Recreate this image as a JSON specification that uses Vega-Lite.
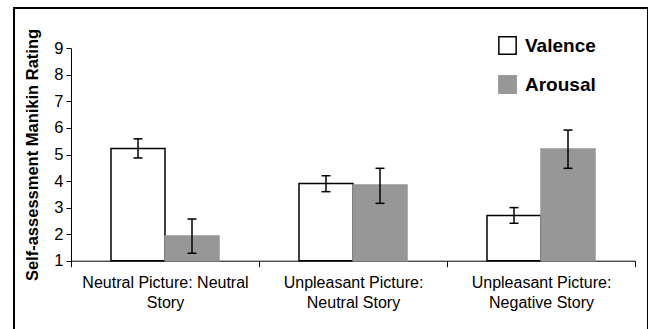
{
  "$schema": "https://vega.github.io/schema/vega-lite/v6.json",
  "autosize": {"type": "none"},
  "padding": {"left": 14, "top": 8, "right": 0, "bottom": 0},
  "width": 634,
  "height": 322,
  "background": "white",
  "view": {"stroke": "black", "strokeWidth": 2, "fill": "white"},
  "config": {
    "font": "Liberation Sans",
    "axis": {"labelFont": "Liberation Sans", "titleFont": "Liberation Sans", "labelColor": "black", "titleColor": "black", "domainColor": "black", "tickColor": "black", "grid": false},
    "legend": {"labelFont": "Liberation Sans", "labelColor": "black"}
  },
  "data": {
    "values": [
      {"condition": "Neutral Picture: Neutral Story", "measure": "Valence", "rating": 5.23, "lo": 4.87, "hi": 5.59},
      {"condition": "Neutral Picture: Neutral Story", "measure": "Arousal", "rating": 1.93, "lo": 1.28, "hi": 2.57},
      {"condition": "Unpleasant Picture: Neutral Story", "measure": "Valence", "rating": 3.91, "lo": 3.6, "hi": 4.2},
      {"condition": "Unpleasant Picture: Neutral Story", "measure": "Arousal", "rating": 3.85, "lo": 3.16, "hi": 4.48},
      {"condition": "Unpleasant Picture: Negative Story", "measure": "Valence", "rating": 2.7, "lo": 2.41, "hi": 3.0},
      {"condition": "Unpleasant Picture: Negative Story", "measure": "Arousal", "rating": 5.21, "lo": 4.48, "hi": 5.92}
    ]
  },
  "encoding": {
    "x": {
      "field": "condition", "type": "nominal",
      "scale": {"domain": ["Neutral Picture: Neutral Story", "Unpleasant Picture: Neutral Story", "Unpleasant Picture: Negative Story"], "range": [57, 621], "paddingInner": 0, "paddingOuter": 0},
      "axis": {
        "title": null, "orient": "bottom", "offset": -69.3, "labelAngle": 0,
        "tickBand": "extent", "tickSize": 6, "labelFontSize": 16, "labelLineHeight": 20, "labelPadding": 8,
        "labelExpr": "datum.value == 'Neutral Picture: Neutral Story' ? ['Neutral Picture: Neutral', 'Story'] : datum.value == 'Unpleasant Picture: Neutral Story' ? ['Unpleasant Picture:', 'Neutral Story'] : datum.value == 'Unpleasant Picture: Negative Story' ? ['Unpleasant Picture:', 'Negative Story'] : ''"
      }
    },
    "xOffset": {
      "field": "measure", "type": "nominal",
      "scale": {"domain": ["Valence", "Arousal"], "paddingInner": 0, "paddingOuter": 0.7407}
    }
  },
  "layer": [
    {
      "mark": {"type": "bar", "strokeWidth": 1.5},
      "encoding": {
        "y": {
          "field": "rating", "type": "quantitative",
          "scale": {"domain": [1, 9], "range": [252.7, 40.3], "nice": false, "zero": false},
          "axis": {
            "title": "Self-assessment Manikin Rating", "titleFontSize": 16.5, "titleFontWeight": "bold", "titlePadding": 13,
            "offset": -57, "values": [1, 2, 3, 4, 5, 6, 7, 8, 9], "tickSize": 5, "labelPadding": 3, "labelFontSize": 16.5
          }
        },
        "y2": {"datum": 1},
        "fill": {
          "field": "measure", "type": "nominal",
          "scale": {"domain": ["Valence", "Arousal"], "range": ["white", "#979797"]},
          "legend": {
            "title": null, "orient": "none", "legendX": 484, "legendY": 28,
            "symbolType": "square", "symbolSize": 300, "symbolStrokeWidth": 1.5,
            "labelFontSize": 19, "labelFontWeight": "bold", "labelOffset": 8, "rowPadding": 14
          }
        },
        "stroke": {
          "field": "measure", "type": "nominal",
          "scale": {"domain": ["Valence", "Arousal"], "range": ["black", "#979797"]},
          "legend": {
            "title": null, "orient": "none", "legendX": 484, "legendY": 28,
            "symbolType": "square", "symbolSize": 300, "symbolStrokeWidth": 1.5,
            "labelFontSize": 19, "labelFontWeight": "bold", "labelOffset": 8, "rowPadding": 14
          }
        }
      }
    },
    {
      "mark": {"type": "rule", "color": "black", "strokeWidth": 1.5},
      "encoding": {
        "y": {"field": "lo", "type": "quantitative"},
        "y2": {"field": "hi"}
      }
    },
    {
      "mark": {"type": "tick", "color": "black", "thickness": 1.5, "size": 9, "opacity": 1},
      "encoding": {"y": {"field": "lo", "type": "quantitative"}}
    },
    {
      "mark": {"type": "tick", "color": "black", "thickness": 1.5, "size": 9, "opacity": 1},
      "encoding": {"y": {"field": "hi", "type": "quantitative"}}
    }
  ]
}
